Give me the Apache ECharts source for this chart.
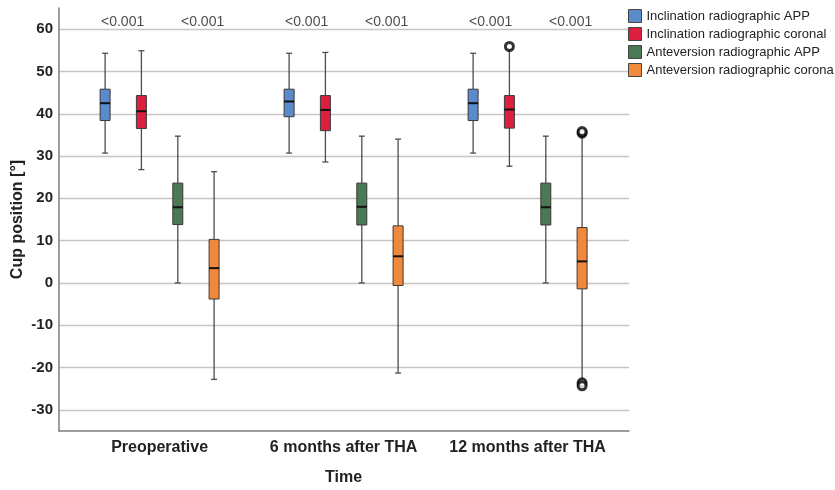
<!DOCTYPE html>
<html><head><meta charset="utf-8">
<script src="https://cdn.jsdelivr.net/npm/echarts@6/dist/echarts.min.js"></script>
<style>html,body{margin:0;padding:0;background:#fff}#c{width:835px;height:490px}</style>
</head><body><div id="c"></div>
<script>
// ---------- data ----------
const categories = ['Preoperative', '6 months after THA', '12 months after THA'];
const seriesNames = ['Inclination radiographic APP', 'Inclination radiographic coronal',
  'Anteversion radiographic APP', 'Anteversion radiographic corona'];
// each row: [lower whisker, Q1, median, Q3, upper whisker]
const inclAPP = [[30.7, 38.4, 42.5, 45.8, 54.3], [30.7, 39.3, 42.9, 45.8, 54.3], [30.7, 38.4, 42.5, 45.8, 54.3]];
const inclCoronal = [[26.8, 36.5, 40.6, 44.3, 54.9], [28.6, 36.0, 40.9, 44.3, 54.5], [27.6, 36.6, 41.0, 44.3, 55.3]];
const antevAPP = [[0.0, 13.8, 17.9, 23.6, 34.7], [0.0, 13.7, 18.0, 23.6, 34.7], [0.0, 13.7, 17.9, 23.6, 34.7]];
const antevCoronal = [[-22.8, -3.8, 3.5, 10.3, 26.3], [-21.3, -0.6, 6.3, 13.5, 34.0], [-23.0, -1.4, 5.1, 13.1, 35.0]];
// outliers: [category index, value]
const outliersInclCoronal = [[2, 55.9]];
const outliersAntevCoronal = [[2, 35.4], [2, 35.8], [2, -23.6], [2, -24.3]];
const pInclination = ['<0.001', '<0.001', '<0.001'];
const pAnteversion = ['<0.001', '<0.001', '<0.001'];
const pLabelLevel = 61.7;

// ---------- styles ----------
const FONT = '"Liberation Sans", Arial, sans-serif';
const colors = ['#5a8bcb', '#dc1f3d', '#4a7955', '#f0893c'];
const offsets = [-54.5, -18.2, 18.2, 54.5];

function boxRenderer(offset, color) {
  return function (params, api) {
    const c = api.value(0);
    const p = function (v) { const pt = api.coord([c, v]); return [pt[0] + offset, pt[1]]; };
    const lo = p(api.value(1)), q1 = p(api.value(2)), md = p(api.value(3)), q3 = p(api.value(4)), hi = p(api.value(5));
    const x = lo[0], bw = 10, cw = 6;
    const ws = { stroke: '#4d4d4d', lineWidth: 1.3 };
    return {
      type: 'group', children: [
        { type: 'line', shape: { x1: x, y1: hi[1], x2: x, y2: q3[1] }, style: ws },
        { type: 'line', shape: { x1: x, y1: q1[1], x2: x, y2: lo[1] }, style: ws },
        { type: 'line', shape: { x1: x - cw / 2, y1: hi[1], x2: x + cw / 2, y2: hi[1] }, style: ws },
        { type: 'line', shape: { x1: x - cw / 2, y1: lo[1], x2: x + cw / 2, y2: lo[1] }, style: ws },
        { type: 'rect', shape: { x: x - bw / 2, y: q3[1], width: bw, height: q1[1] - q3[1] },
          style: { fill: color, stroke: '#3a3a3a', lineWidth: 1 } },
        { type: 'line', shape: { x1: x - bw / 2, y1: md[1], x2: x + bw / 2, y2: md[1] },
          style: { stroke: '#111', lineWidth: 2 } }
      ]
    };
  };
}

const boxData = [inclAPP, inclCoronal, antevAPP, antevCoronal];
const series = boxData.map(function (rows, k) {
  return {
    name: seriesNames[k], type: 'custom', xAxisIndex: 1, yAxisIndex: 1,
    itemStyle: { color: colors[k] },
    renderItem: boxRenderer(offsets[k], colors[k]),
    encode: { x: 0, y: [1, 2, 3, 4, 5] },
    data: rows.map(function (r, i) { return [i].concat(r); }),
    z: 3
  };
});
function outlierSeries(points, k) {
  return {
    type: 'scatter', xAxisIndex: 1, yAxisIndex: 1, symbol: 'circle', symbolSize: 8,
    symbolOffset: [offsets[k], 0],
    itemStyle: { color: '#fff', borderColor: '#000', borderWidth: 3 },
    data: points, z: 4, silent: true
  };
}
series.push(outlierSeries(outliersInclCoronal, 1));
series.push(outlierSeries(outliersAntevCoronal, 3));
function pSeries(texts, dx) {
  return {
    type: 'scatter', xAxisIndex: 1, yAxisIndex: 1, symbolSize: 0, silent: true,
    data: texts.map(function (t, i) { return [i, pLabelLevel]; }),
    label: { show: true, position: 'inside', offset: [dx, 0], fontFamily: FONT, fontSize: 14, color: '#1a1a1a',
      formatter: function (p) { return texts[p.dataIndex]; } }
  };
}
series.push(pSeries(pInclination, -37));
series.push(pSeries(pAnteversion, 43));

const yCommon = { type: 'value', min: -35, max: 65, splitNumber: 10 };

const option = {
  animation: false,
  backgroundColor: '#fff',
  grid: [
    { left: 59, right: 206, top: 8, bottom: 59, outerBoundsMode: 'none', containLabel: false },
    { left: 67.6, width: 552, top: 8, bottom: 59, outerBoundsMode: 'none', containLabel: false }
  ],
  legend: {
    orient: 'vertical', left: 628, top: 9, itemWidth: 13, itemHeight: 13, itemGap: 4, padding: 0,
    icon: 'rect', data: seriesNames,
    itemStyle: { borderColor: '#444', borderWidth: 1 },
    textStyle: { fontFamily: FONT, fontSize: 13, color: '#222' }
  },
  xAxis: [
    { gridIndex: 0, type: 'value', min: 0, max: 1,
      axisLine: { show: true, onZero: false, lineStyle: { color: '#7d7d7d', width: 1.5 } },
      axisTick: { show: false }, axisLabel: { show: false }, splitLine: { show: false } },
    { gridIndex: 1, type: 'category', data: categories,
      axisLine: { show: false, onZero: false }, axisTick: { show: false }, splitLine: { show: false },
      axisLabel: { interval: 0, hideOverlap: false, margin: 9, fontFamily: FONT, fontWeight: 'bold', fontSize: 16, color: '#222' },
      name: 'Time', nameLocation: 'middle', nameGap: 39, nameMoveOverlap: false,
      nameTextStyle: { fontFamily: FONT, fontWeight: 'bold', fontSize: 16, color: '#222' } }
  ],
  yAxis: [
    Object.assign({ gridIndex: 0,
      axisLine: { show: true, lineStyle: { color: '#7d7d7d', width: 1.5 } },
      axisTick: { show: false },
      axisLabel: { showMinLabel: false, showMaxLabel: false, margin: 6,
        fontFamily: FONT, fontWeight: 'bold', fontSize: 15, color: '#222' },
      splitLine: { show: true, showMinLine: false, showMaxLine: false, lineStyle: { color: '#cbc3c1', width: 1.3 } },
      name: 'Cup position [°]', nameLocation: 'middle', nameGap: 33, nameMoveOverlap: false,
      nameTextStyle: { fontFamily: FONT, fontWeight: 'bold', fontSize: 16, color: '#222' } }, yCommon),
    Object.assign({ gridIndex: 1, show: false, splitLine: { show: false } }, yCommon)
  ],
  series: series
};
const chart = echarts.init(document.getElementById('c'), null, { renderer: 'canvas' });
chart.setOption(option);
</script>
</body></html>
